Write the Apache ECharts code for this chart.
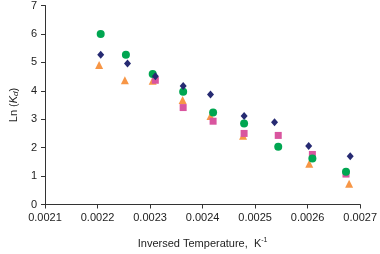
<!DOCTYPE html>
<html>
<head>
<meta charset="utf-8">
<script src="https://cdn.jsdelivr.net/npm/echarts@6/dist/echarts.min.js"></script>
<style>html,body{margin:0;padding:0;background:#fff}#c{width:380px;height:254px}</style>
</head>
<body>
<div id="c"></div>
<script>
const xTicks = [0.0021, 0.0022, 0.0023, 0.0024, 0.0025, 0.0026, 0.0027];
const yTicks = [0, 1, 2, 3, 4, 5, 6, 7];

const diamondX = [0.002206, 0.002257, 0.00231, 0.002363, 0.002415, 0.002479, 0.002537, 0.002602, 0.002681];
const diamondY = [5.27, 4.96, 4.51, 4.17, 3.87, 3.11, 2.89, 2.06, 1.70];

const circleX = [0.002206, 0.002254, 0.002305, 0.002363, 0.00242, 0.002479, 0.002544, 0.002609, 0.002673];
const circleY = [6.0, 5.27, 4.59, 3.97, 3.24, 2.85, 2.03, 1.62, 1.15];

const triangleX = [0.002203, 0.002252, 0.002305, 0.002362, 0.002415, 0.002477, 0.002603, 0.002679];
const triangleY = [4.91, 4.37, 4.35, 3.68, 3.11, 2.42, 1.43, 0.73];

const squareX = [0.00231, 0.002363, 0.00242, 0.002479, 0.002544, 0.002609, 0.002673];
const squareY = [4.37, 3.41, 2.93, 2.50, 2.43, 1.76, 1.07];

const pairs = (xs, ys) => xs.map((x, i) => [x, ys[i]]);
const font = 'Liberation Sans, Arial, sans-serif';

const chart = echarts.init(document.getElementById('c'), null, {renderer: 'canvas'});
chart.setOption({
  animation: false,
  backgroundColor: '#ffffff',
  grid: {left: 33, right: 17, top: 4, bottom: 43, containLabel: false},
  xAxis: {
    type: 'value',
    min: xTicks[0], max: xTicks[xTicks.length - 1], interval: 0.0001,
    axisLine: {lineStyle: {color: '#333', width: 1}},
    axisTick: {show: true, length: 4, lineStyle: {color: '#333'}},
    splitLine: {show: false},
    axisLabel: {color: '#222', fontFamily: font, fontSize: 11, margin: 8,
      formatter: v => v.toFixed(4)},
    name: '{n|Inversed Temperature,  K}{s|-1}',
    nameLocation: 'middle', nameGap: 32,
    nameTextStyle: {
      rich: {
        n: {fontFamily: font, fontSize: 11, color: '#222'},
        s: {fontFamily: font, fontSize: 7, color: '#222', padding: [0, 0, 7, 0]}
      }
    }
  },
  yAxis: {
    type: 'value', min: 0, max: 7, interval: 1,
    axisLine: {show: true, lineStyle: {color: '#333', width: 1}},
    axisTick: {show: true, length: 4, lineStyle: {color: '#333'}},
    splitLine: {show: false},
    axisLabel: {color: '#222', fontFamily: font, fontSize: 11, margin: 8},
    name: '{n|Ln (}{k|K}{d|d}{n|)}',
    nameLocation: 'middle', nameGap: 23, nameRotate: 90,
    nameTextStyle: {
      rich: {
        n: {fontFamily: font, fontSize: 11, color: '#222'},
        k: {fontFamily: font, fontSize: 11, color: '#222', fontStyle: 'italic'},
        d: {fontFamily: font, fontSize: 8, color: '#222', fontStyle: 'italic', padding: [5, 0, 0, 0]}
      }
    }
  },
  series: [
    {type: 'scatter', name: 'triangle', data: pairs(triangleX, triangleY), symbol: 'triangle', symbolSize: 8, itemStyle: {color: '#F79646', opacity: 1}},
    {type: 'scatter', name: 'square', data: pairs(squareX, squareY), symbol: 'rect', symbolSize: 7, itemStyle: {color: '#D9559F', opacity: 1}},
    {type: 'scatter', name: 'circle', data: pairs(circleX, circleY), symbol: 'circle', symbolSize: 8, itemStyle: {color: '#00A651', opacity: 1}},
    {type: 'scatter', name: 'diamond', data: pairs(diamondX, diamondY), symbol: 'diamond', symbolSize: [7, 8], itemStyle: {color: '#262A72', opacity: 1}}
  ]
});
</script>
</body>
</html>
